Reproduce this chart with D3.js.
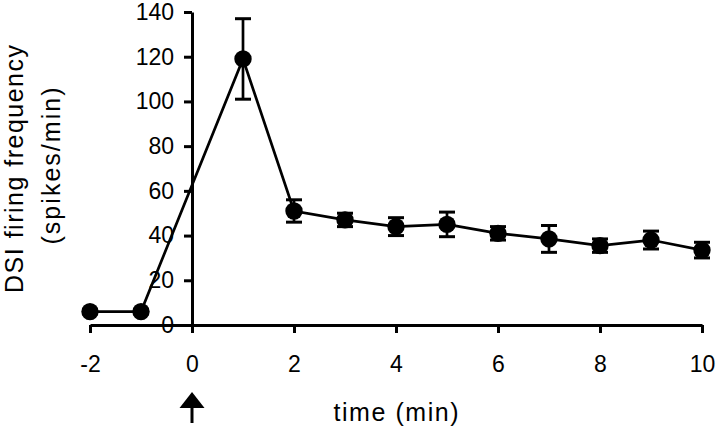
<!DOCTYPE html>
<html>
<head>
  <meta charset="utf-8">
  <script src="https://d3js.org/d3.v7.min.js"></script>
  <style>
  body { margin: 0; background: #fff; }
  text { font-family: "Liberation Sans", Arial, sans-serif; fill: #000; }
  </style>
</head>
<body>
  <script>
  var w = 720;
  var h = 430;

  //Time points (min) and DSI firing frequency (spikes/min)
  var times = [-2, -1, 1, 2, 3, 4, 5, 6, 7, 8, 9, 10];
  var means = [6, 6, 119, 51, 47, 44, 45, 41, 38.5, 35.5, 38, 33.5];
  var sems  = [1, 1, 18, 5, 3, 4, 5.5, 3, 6, 3, 4, 3.5];

  var xTicks = [-2, 0, 2, 4, 6, 8, 10];
  var yTicks = [0, 20, 40, 60, 80, 100, 120, 140];

  var data = times.map(function(t, i){
    return {t: t, m: means[i], e: sems[i]};
  });

  var x = d3.scaleLinear().domain([-2, 10]).range([90, 702]);
  var y = d3.scaleLinear().domain([0, 140]).range([325, 12]);

  var svg = d3.select("body")
    .append("svg")
    .attr("width", w)
    .attr("height", h);

  //plain hyphen for negatives, like the original
  var fmt = function(d){ return String(d); };

  //X axis along y = 0
  var xAxis = svg.append("g")
    .attr("transform", "translate(0," + y(0) + ")")
    .call(d3.axisBottom(x).tickValues(xTicks).tickFormat(fmt)
      .tickSize(8).tickPadding(23).tickSizeOuter(0));

  //Y axis crossing at t = 0
  var yAxis = svg.append("g")
    .attr("transform", "translate(" + x(0) + ",0)")
    .call(d3.axisLeft(y).tickValues(yTicks).tickFormat(fmt)
      .tickSize(8).tickPadding(10).tickSizeOuter(0));

  [xAxis, yAxis].forEach(function(a){
    a.select(".domain").attr("stroke", "#000").attr("stroke-width", 3);
    a.selectAll(".tick line").attr("stroke", "#000").attr("stroke-width", 3);
    a.selectAll(".tick text")
      .style("font-size", "23px")
      .attr("fill", "#000");
  });

  //Connecting line
  var line = d3.line()
    .x(function(d){ return x(d.t); })
    .y(function(d){ return y(d.m); });

  svg.append("path")
    .datum(data)
    .attr("d", line)
    .attr("fill", "none")
    .attr("stroke", "#000")
    .attr("stroke-width", 2.7);

  //Error bars
  var bars = svg.append("g").selectAll("g")
    .data(data)
    .enter()
    .append("g");

  bars.append("line")
    .attr("x1", function(d){ return x(d.t); })
    .attr("x2", function(d){ return x(d.t); })
    .attr("y1", function(d){ return y(d.m + d.e); })
    .attr("y2", function(d){ return y(d.m - d.e); })
    .attr("stroke", "#000")
    .attr("stroke-width", 2.7);

  [1, -1].forEach(function(s){
    bars.append("line")
      .attr("x1", function(d){ return x(d.t) - 8; })
      .attr("x2", function(d){ return x(d.t) + 8; })
      .attr("y1", function(d){ return y(d.m + s * d.e); })
      .attr("y2", function(d){ return y(d.m + s * d.e); })
      .attr("stroke", "#000")
      .attr("stroke-width", 3);
  });

  //Markers
  svg.append("g").selectAll("circle")
    .data(data)
    .enter()
    .append("circle")
      .attr("cx", function(d){ return x(d.t); })
      .attr("cy", function(d){ return y(d.m); })
      .attr("r", 8.7)
      .attr("fill", "#000");

  //Axis titles (spread to the original's widths)
  svg.append("text")
    .attr("x", 396)
    .attr("y", 421)
    .attr("text-anchor", "middle")
    .attr("textLength", 125)
    .attr("lengthAdjust", "spacing")
    .style("font-size", "25px")
    .text("time (min)");

  svg.append("text")
    .attr("transform", "translate(23,169) rotate(-90)")
    .attr("text-anchor", "middle")
    .attr("textLength", 248)
    .attr("lengthAdjust", "spacing")
    .style("font-size", "25px")
    .text("DSI firing frequency");

  svg.append("text")
    .attr("transform", "translate(60,166) rotate(-90)")
    .attr("text-anchor", "middle")
    .attr("textLength", 157)
    .attr("lengthAdjust", "spacing")
    .style("font-size", "25px")
    .text("(spikes/min)");

  //Arrow marking the application at t = 0
  var ax = x(0);
  svg.append("line")
    .attr("x1", ax).attr("x2", ax)
    .attr("y1", 404).attr("y2", 423)
    .attr("stroke", "#000")
    .attr("stroke-width", 3);

  svg.append("path")
    .attr("d", "M" + ax + ",392L" + (ax + 12.5) + ",408L" + (ax - 12.5) + ",408Z")
    .attr("fill", "#000");
  </script>
</body>
</html>
